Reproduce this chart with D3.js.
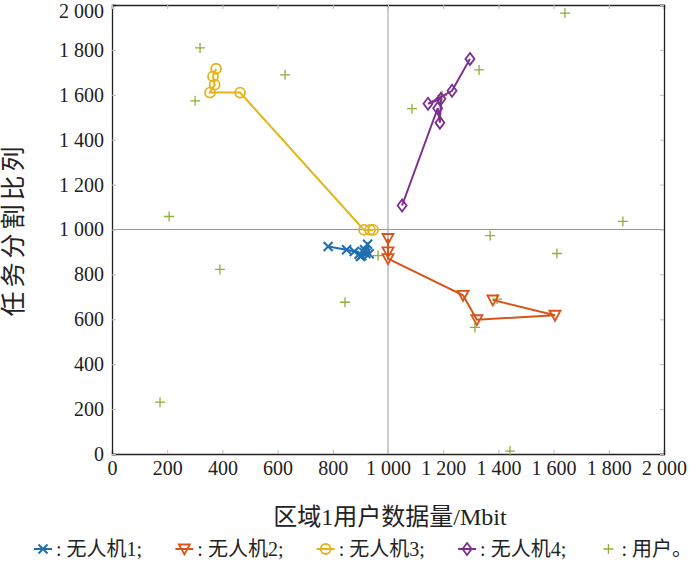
<!DOCTYPE html>
<html><head><meta charset="utf-8">
<script src="https://cdn.jsdelivr.net/npm/d3@7"></script>
<style>
body{margin:0;background:#fff;}
svg text{font-family:"Liberation Serif","Times New Roman",Times,"DejaVu Serif","Noto Sans CJK SC",serif !important;}
</style></head>
<body><svg id="c" width="700" height="565"></svg>
<script>
const xTicks=[0,200,400,600,800,1000,1200,1400,1600,1800,2000];
const yTicks=[0,200,400,600,800,1000,1200,1400,1600,1800,2000];
const uav1=[[783,924],[850,910],[878,902],[895,890],[905,884],[912,898],[920,893],[915,910],[926,934],[932,892],[900,880]];
const uav2=[[1000,960],[1000,900],[1000,870],[1272,707],[1322,598],[1605,618],[1380,686]];
const uav3=[[946,998],[935,998],[913,998],[464,1610],[355,1610],[372,1645],[366,1682],[377,1716]];
const uav4=[[1051,1107],[1180,1540],[1188,1476],[1192,1582],[1145,1560],[1232,1618],[1297,1760]];
const users=[[319,1809],[301,1573],[627,1689],[207,1058],[391,822],[174,231],[844,676],[1087,1538],[1196,1596],[1330,1711],[1641,1964],[1851,1036],[1370,973],[1612,893],[1395,690],[1315,564],[1442,13],[964,884]];
const seriesNames=["无人机1","无人机2","无人机3","无人机4","用户"];
const colors=["#1f6fb0","#d9541a","#e3b51c","#7e2f8e","#8fae3a"];

const svg=d3.select("#c");
const FF='"Liberation Serif","Times New Roman",Times,"DejaVu Serif","Noto Sans CJK SC",serif';
const x=d3.scaleLinear().domain([0,2000]).range([112,664]);
const y=d3.scaleLinear().domain([0,2000]).range([454,5]);
const fmt=v=>v>=1000?d3.format(",")(v).replace(","," "):String(v);

svg.append("line").attr("x1",x(1000)).attr("x2",x(1000)).attr("y1",y(0)).attr("y2",y(2000)).attr("stroke","#9a9a9a").attr("stroke-width",1);
svg.append("line").attr("x1",x(0)).attr("x2",x(2000)).attr("y1",y(1000)).attr("y2",y(1000)).attr("stroke","#9a9a9a").attr("stroke-width",1);

const gx=svg.append("g").attr("transform",`translate(0,${y(0)})`).call(d3.axisBottom(x).tickValues(xTicks).tickSize(-4).tickPadding(7).tickFormat(fmt));
const gy=svg.append("g").attr("transform",`translate(${x(0)},0)`).call(d3.axisLeft(y).tickValues(yTicks).tickSize(-4).tickPadding(8).tickFormat(fmt));
const gx2=svg.append("g").attr("transform",`translate(0,${y(2000)})`).call(d3.axisTop(x).tickValues(xTicks).tickSize(-4).tickFormat(""));
const gy2=svg.append("g").attr("transform",`translate(${x(2000)},0)`).call(d3.axisRight(y).tickValues(yTicks).tickSize(-4).tickFormat(""));
[gx,gy,gx2,gy2].forEach(g=>{g.attr("font-family",FF);g.select(".domain").attr("stroke","#222").attr("stroke-width",1.3);g.selectAll(".tick line").attr("stroke","#bbb");g.selectAll("text").attr("font-size",20).attr("fill","#222").attr("font-family",FF);});
gy.selectAll(".tick").filter(d=>d===2000).select("text").attr("dy","0.6em");

svg.append("text").attr("x",390).attr("y",525).attr("text-anchor","middle").attr("font-size",24).attr("font-family",FF).attr("fill","#222").text("区域1用户数据量/Mbit");
svg.append("text").attr("transform",`translate(22,${y(1000)}) rotate(-90)`).attr("text-anchor","middle").attr("font-size",25).attr("letter-spacing",4).attr("font-family",FF).attr("fill","#222").text("任务分割比列");

const line=d3.line().x(d=>x(d[0])).y(d=>y(d[1]));
function marker(g,type,color,cx,cy){
  const s=4.5;
  if(type==="x"){g.append("path").attr("d",`M${cx-s},${cy-s}L${cx+s},${cy+s}M${cx-s},${cy+s}L${cx+s},${cy-s}`).attr("stroke",color).attr("stroke-width",2);}
  else if(type==="tri"){g.append("path").attr("d",`M${cx-5.5},${cy-4.5}L${cx+5.5},${cy-4.5}L${cx},${cy+5.5}Z`).attr("stroke",color).attr("stroke-width",1.8).attr("fill","none");}
  else if(type==="circ"){g.append("circle").attr("cx",cx).attr("cy",cy).attr("r",5).attr("stroke",color).attr("stroke-width",1.8).attr("fill","none");}
  else if(type==="dia"){g.append("path").attr("d",`M${cx},${cy-6}L${cx+4.5},${cy}L${cx},${cy+6}L${cx-4.5},${cy}Z`).attr("stroke",color).attr("stroke-width",1.8).attr("fill","none");}
  else if(type==="plus"){g.append("path").attr("d",`M${cx-5},${cy}L${cx+5},${cy}M${cx},${cy-5}L${cx},${cy+5}`).attr("stroke",color).attr("stroke-width",1.3);}
}
const types=["x","tri","circ","dia","plus"];
const uavs=[uav1,uav2,uav3,uav4];
const mg=svg.append("g");
users.forEach(d=>marker(mg,"plus",colors[4],x(d[0]),y(d[1])));
uavs.forEach((data,i)=>{
  mg.append("path").attr("d",line(data)).attr("fill","none").attr("stroke",colors[i]).attr("stroke-width",2);
  data.forEach(d=>marker(mg,types[i],colors[i],x(d[0]),y(d[1])));
});

const lg=svg.append("g");
const ly=549;
const items=seriesNames.map((n,i)=>{
  const g=lg.append("g");
  if(i<4){g.append("line").attr("x1",0).attr("x2",18).attr("y1",0).attr("y2",0).attr("stroke",colors[i]).attr("stroke-width",2);}
  marker(g,types[i],colors[i],9,0);
  const t=g.append("text").attr("x",22).attr("y",7).attr("font-size",20).attr("font-family",FF).attr("fill","#222").text(": "+n+(i<4?";":"。"));
  return {g,w:22+t.node().getComputedTextLength()};
});
const total=d3.sum(items,d=>d.w);
const gap=Math.max(6,(692-34-total)/(items.length-1));
let cx=34;
items.forEach(it=>{it.g.attr("transform",`translate(${cx},${ly})`);cx+=it.w+gap;});
</script></body></html>
